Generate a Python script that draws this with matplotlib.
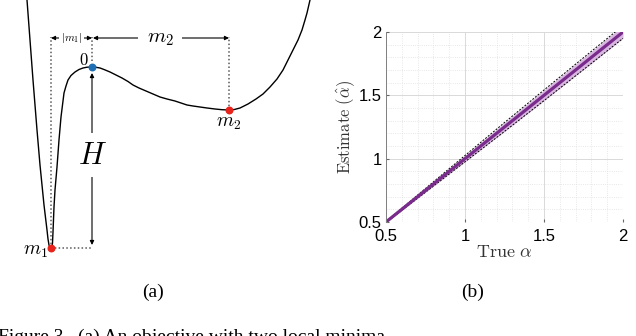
import numpy as np
import matplotlib.pyplot as plt
from matplotlib.ticker import MultipleLocator

plt.rcParams['mathtext.fontset'] = 'cm'

# (a) objective curve, x relative to the saddle point, f relative to its value
curve_x = [-65, -62, -59, -55, -52, -48, -45, -44, -43, -42, -41, -40, -39.5, -39,
           -38, -37, -35, -33, -31, -28, -26, -24, -21, -17, -13, -9, -5, 0,
           4, 8, 12, 18, 24, 30, 36, 41, 47, 54, 61, 68, 75, 83, 89, 95, 101,
           108, 115, 123, 130, 137, 142, 148, 156, 164, 171, 178, 185, 191, 196,
           201, 206, 210, 213, 215, 218]
curve_f = [67, 27, -13, -63, -98, -138, -163, -172, -178, -181, -182, -180, -176, -165,
           -140, -123, -100, -73, -50, -26, -19, -13, -8.5, -5, -2.5, -1, -0.2, 0,
           -0.3, -1, -2.5, -5, -8, -11, -14.5, -18, -21, -24, -27, -30, -32, -34, -36, -38, -39,
           -40, -41, -42, -42.7, -43, -42.6, -41, -37, -32, -27, -20, -12, -3, 7,
           17, 27, 37, 47, 54, 67]
m1 = (-41, -181)
m2 = (137, -43)
saddle = (0, 0)

# (b) estimate vs true alpha
true_alpha = [0.5, 0.75, 1.0, 1.25, 1.5, 1.75, 2.0]
est_mean = [0.5, 0.75, 1.0, 1.25, 1.5, 1.75, 2.0]
est_lo = [0.496, 0.735, 0.975, 1.215, 1.458, 1.703, 1.950]
est_hi = [0.504, 0.765, 1.025, 1.285, 1.542, 1.797, 2.050]

fig = plt.figure(figsize=(6.36, 3.36), dpi=100)

# ---------- panel (a) ----------
ax = fig.add_axes([0, 76/336, 318/636, 260/336])
ax.set_xlim(-92, 226)
ax.set_ylim(-193, 67)
ax.axis('off')

ax.plot(curve_x, curve_f, color='black', lw=1.0, solid_joinstyle='round')

top = 30
dot = dict(color='0.35', lw=1.1, ls=(0, (1, 1.5)))
ax.plot([m1[0], m1[0]], [m1[1], top], **dot)
ax.plot([0, 0], [6, top], **dot)
ax.plot([m2[0], m2[0]], [m2[1], top], **dot)
ax.plot([m1[0], 0], [m1[1], m1[1]], **dot)

arr = dict(arrowstyle='<|-|>', color='black', lw=0.8, mutation_scale=6,
           shrinkA=0, shrinkB=0)
ax.annotate('', xy=(m1[0], top - 1), xytext=(0, top - 1), arrowprops=arr)
ax.annotate('', xy=(1, top - 1), xytext=(m2[0], top - 1), arrowprops=arr)
ax.annotate('', xy=(0, -6), xytext=(0, m1[1] + 3), arrowprops=arr)

wbox = dict(facecolor='white', edgecolor='none', pad=1.5)
ax.text(-20.5, top - 1, '$|m_1|$', fontsize=8, ha='center', va='center', bbox=wbox)
ax.text(68, top - 1, '$m_2$', fontsize=15, ha='center', va='center',
        bbox=dict(facecolor='white', edgecolor='none', pad=6))
ax.text(0, -88, '$H$', fontsize=22, ha='center', va='center',
        bbox=dict(facecolor='white', edgecolor='none', pad=5))
ax.text(-3, 7, '$0$', fontsize=12, ha='right', va='center')
ax.text(m1[0] - 3, m1[1] - 3, '$m_1$', fontsize=14, ha='right', va='center')
ax.text(m2[0], m2[1] - 13, '$m_2$', fontsize=14, ha='center', va='center')

ax.scatter([m1[0], m2[0]], [m1[1], m2[1]], s=22, color='#e8231c', zorder=5)
ax.scatter([saddle[0]], [saddle[1]], s=22, color='#1f6fb4', zorder=5)

# ---------- panel (b) ----------
bx = fig.add_axes([386/636, 114/336, 237/636, 190/336])
bx.fill_between(true_alpha, est_lo, est_hi, color='#d9b6e1', lw=0)
bx.plot(true_alpha, est_lo, color='black', lw=0.7, ls=(0, (2, 1.5)))
bx.plot(true_alpha, est_hi, color='black', lw=0.7, ls=(0, (2, 1.5)))
bx.plot(true_alpha, est_mean, color='#7a2c8c', lw=2.3)

bx.set_xlim(0.5, 2)
bx.set_ylim(0.5, 2)
bx.xaxis.set_major_locator(MultipleLocator(0.5))
bx.yaxis.set_major_locator(MultipleLocator(0.5))
bx.xaxis.set_minor_locator(MultipleLocator(0.1))
bx.yaxis.set_minor_locator(MultipleLocator(0.1))
bx.xaxis.set_major_formatter(plt.FuncFormatter(lambda v, p: f'{v:g}'))
bx.yaxis.set_major_formatter(plt.FuncFormatter(lambda v, p: f'{v:g}'))
bx.grid(True, which='major', color='0.85', lw=0.7)
bx.grid(True, which='minor', color='0.88', lw=0.6, ls=':')
bx.set_axisbelow(True)
for s in ['top', 'right', 'bottom']:
    bx.spines[s].set_visible(False)
bx.spines['left'].set_color('0.5')
bx.spines['left'].set_linewidth(0.7)
bx.tick_params(which='both', direction='in', length=2, color='0.4',
               labelsize=12, pad=3)
bx.tick_params(axis='x', pad=5)
bx.tick_params(which='minor', length=0)
for lab in bx.get_xticklabels() + bx.get_yticklabels():
    lab.set_family('Liberation Sans')
bx.set_xlabel(r'$\mathrm{True}\ \alpha$', fontsize=13, labelpad=-1, color='0.2')
bx.set_ylabel(r'$\mathrm{Estimate}\ (\hat{\alpha})$', fontsize=12, labelpad=1,
              color='0.2')

fig.text(153/636, (336-292)/336, '(a)', fontsize=14, family='Liberation Serif',
         ha='center', va='center')
fig.text(473/636, (336-292)/336, '(b)', fontsize=14, family='Liberation Serif',
         ha='center', va='center')
fig.text(-2/636, -6/336, 'Figure 3.  (a) An objective with two local minima',
         fontsize=14, family='Liberation Serif', ha='left', va='baseline')

fig.savefig('out.png', dpi=100)
